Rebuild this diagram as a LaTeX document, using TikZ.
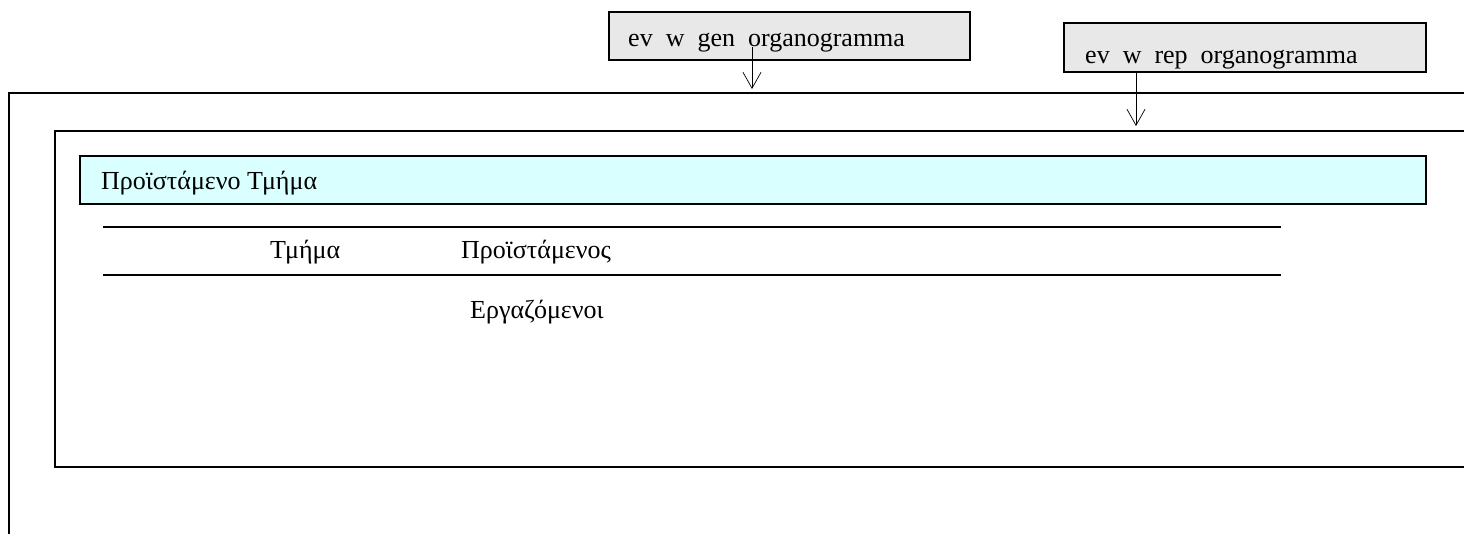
\documentclass[tikz,border=0pt]{standalone}
\usepackage{fontspec}
\setmainfont{Liberation Serif}
\usetikzlibrary{arrows.meta}
\definecolor{boxgray}{HTML}{E8E8E8}
\definecolor{boxcyan}{HTML}{D9FFFF}
\begin{document}
\begin{tikzpicture}[x=1pt,y=-1pt,
  frame/.style={line width=2pt,line cap=rect},
  thinbox/.style={draw,line width=2pt},
  lbl/.style={anchor=base west,inner sep=0pt,font=\fontsize{26}{30}\selectfont},
  arr/.style={line width=0.7pt,-{Straight Barb[length=16pt,width=18pt,line width=0.7pt]}}]
\useasboundingbox (0,0) rectangle (1464,533);
% outer frame
\draw[frame] (9,533) -- (9,93) -- (1464,93);
% inner frame
\draw[frame] (1464,131) -- (55,131) -- (55,467) -- (1464,467);
% cyan header
\node[thinbox,fill=boxcyan,minimum width=1346pt,minimum height=48pt,anchor=north west,inner sep=0pt] (hdr) at (79,155) {};
\node[lbl] (hdrt) at (101,189) {Προϊστάμενο Τμήμα};
% table lines
\coordinate (l1a) at (103,227); \coordinate (l1b) at (1281,227);
\coordinate (l2a) at (103,275); \coordinate (l2b) at (1281,275);
\draw[frame,line cap=butt] (l1a) -- (l1b);
\draw[frame,line cap=butt] (l2a) -- (l2b);
\node[lbl] (tm) at (270,258) {Τμήμα};
\node[lbl] (pr) at (461,258) {Προϊστάμενος};
\node[lbl] (er) at (470,318) {Εργαζόμενοι};
% top boxes
\node[thinbox,fill=boxgray,minimum width=361pt,minimum height=48pt,anchor=north west,inner sep=0pt] (gen) at (608,11) {};
\node[lbl] (gent) at (628,46) {ev\ \ w\ \ gen\ \ organogramma};
\node[thinbox,fill=boxgray,minimum width=362pt,minimum height=49pt,anchor=north west,inner sep=0pt] (rep) at (1063,22) {};
\node[lbl] (rept) at (1085,63) {ev\ \ w\ \ rep\ \ organogramma};
% arrows
\coordinate (a1s) at (752,47); \coordinate (a1e) at (752,89);
\coordinate (a2s) at (1136,71); \coordinate (a2e) at (1136,126);
\draw[arr] (a1s) -- (a1e);
\draw[arr] (a2s) -- (a2e);
\end{tikzpicture}
\end{document}
